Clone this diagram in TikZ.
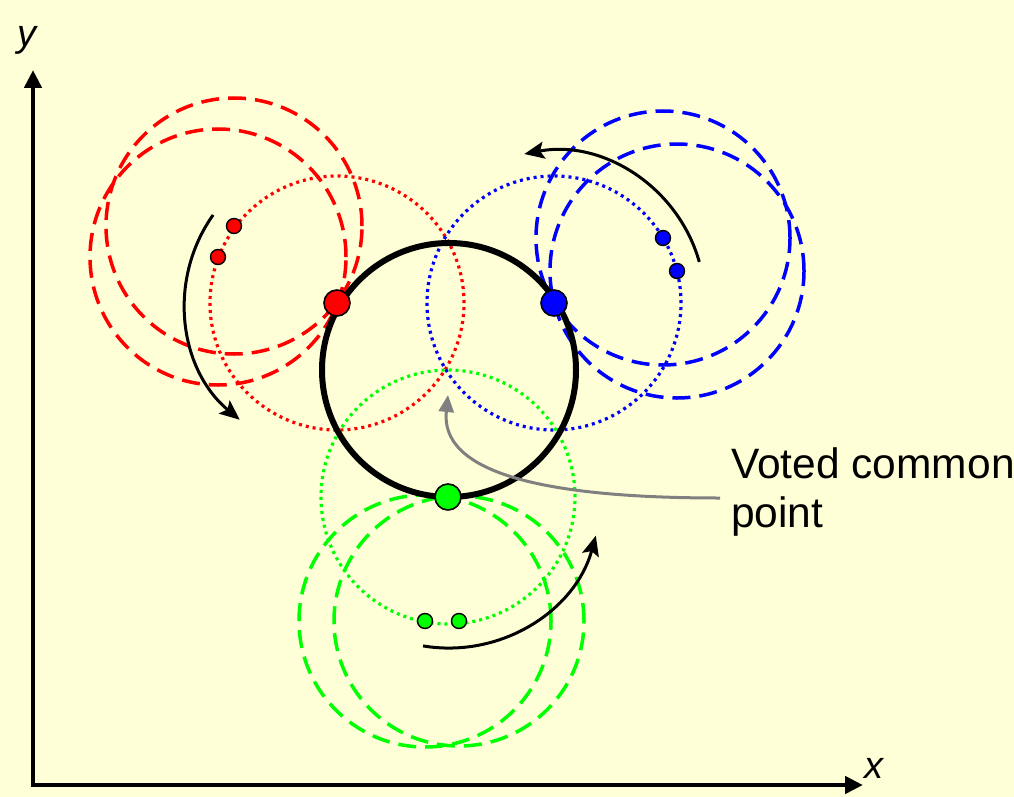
\documentclass[tikz,border=0pt]{standalone}
\usepackage{fontspec}
\setmainfont{Liberation Sans}
\usetikzlibrary{arrows.meta}
\definecolor{bg}{RGB}{255,255,215}
\definecolor{myred}{RGB}{255,0,0}
\definecolor{myblue}{RGB}{0,0,255}
\definecolor{mygreen}{RGB}{0,255,0}
\definecolor{mygray}{RGB}{128,128,128}
\begin{document}
\begin{tikzpicture}[x=1pt,y=-1pt,
  axis/.style={line width=4.8pt, line join=miter, {Triangle[length=18pt,width=17pt]}-{Triangle[length=18pt,width=17pt]}},
  dotc/.style={line width=3.2pt, dash pattern=on 3pt off 4pt},
  dashc/.style={line width=3.5pt, dash pattern=on 18pt off 9pt},
  bigpt/.style={circle, draw=black, line width=1.6pt, minimum size=26pt, inner sep=0pt},
  smallpt/.style={circle, draw=black, line width=1.4pt, minimum size=15pt, inner sep=0pt},
  motion/.style={line width=3pt, -{Stealth[length=20pt,width=17pt,inset=4pt]}},
  voted/.style={line width=3pt, draw=mygray, -{Triangle[length=17pt,width=15pt]}},
  lbl/.style={font=\fontsize{42.5}{49}\selectfont, inner sep=0pt},
  axlbl/.style={font=\fontsize{38}{38}\selectfont\itshape, inner sep=0pt},
]
\fill[bg] (0,0) rectangle (1014,797);
\useasboundingbox (0,0) rectangle (1014,797);

% key coordinates
\coordinate (C) at (449,370);
\coordinate (R) at (337,303);
\coordinate (B) at (554,303);
\coordinate (G) at (448,497);
\coordinate (r1c) at (234,226);
\coordinate (r2c) at (218,257);
\coordinate (b1c) at (663,238);
\coordinate (b2c) at (677,271);
\coordinate (g1c) at (425,621);
\coordinate (g2c) at (459,621);

% axes
\coordinate (O) at (33,785);
\coordinate (ytop) at (33,70);
\coordinate (xend) at (863,785);
\draw[axis] (ytop) -- (O) -- (xend);
\node[axlbl, anchor=base] (ylab) at (27,47) {y};
\node[axlbl, anchor=base] (xlab) at (874,778) {x};

% dotted circles
\draw[dotc, myred] (R) circle[radius=127pt];
\draw[dotc, myblue] (B) circle[radius=127pt];
\draw[dotc, mygreen] (G) circle[radius=127pt];

% dashed circles
\draw[dashc, myred] (r1c) circle[radius=128pt];
\draw[dashc, myred] (r2c) circle[radius=128pt];
\draw[dashc, myblue] (b1c) circle[radius=127pt];
\draw[dashc, myblue] (b2c) circle[radius=127pt];
\draw[dashc, mygreen] (g1c) circle[radius=126pt];
\draw[dashc, mygreen] (g2c) circle[radius=125pt];

% black circle
\draw[line width=6pt] (C) circle[radius=127pt];

% motion arcs
\draw[motion] (R) ++(144.6:152pt) arc[start angle=144.6, end angle=230.2, radius=152pt];
\draw[motion] (B) ++(15.8:151pt) arc[start angle=15.8, end angle=100.9, radius=152pt];
\draw[motion] (G) ++(-99.5:151pt) arc[start angle=-99.5, end angle=-15.4, radius=153pt];

% label and gray arrow
\node[lbl, anchor=base west] (lab1) at (731,478) {Voted common};
\node[lbl, anchor=base west] (lab2) at (731,527) {point};
\coordinate (gs) at (720,498);
\coordinate (vote) at (448,395);
\draw[voted] (gs) .. controls (540,498) and (440,472) .. (vote);

% points
\node[bigpt, fill=myred] (Rp) at (R) {};
\node[bigpt, fill=myblue] (Bp) at (B) {};
\node[bigpt, fill=mygreen] (Gp) at (G) {};
\node[smallpt, fill=myred] (r1) at (r1c) {};
\node[smallpt, fill=myred] (r2) at (r2c) {};
\node[smallpt, fill=myblue] (b1) at (b1c) {};
\node[smallpt, fill=myblue] (b2) at (b2c) {};
\node[smallpt, fill=mygreen] (g1) at (g1c) {};
\node[smallpt, fill=mygreen] (g2) at (g2c) {};
\end{tikzpicture}
\end{document}
